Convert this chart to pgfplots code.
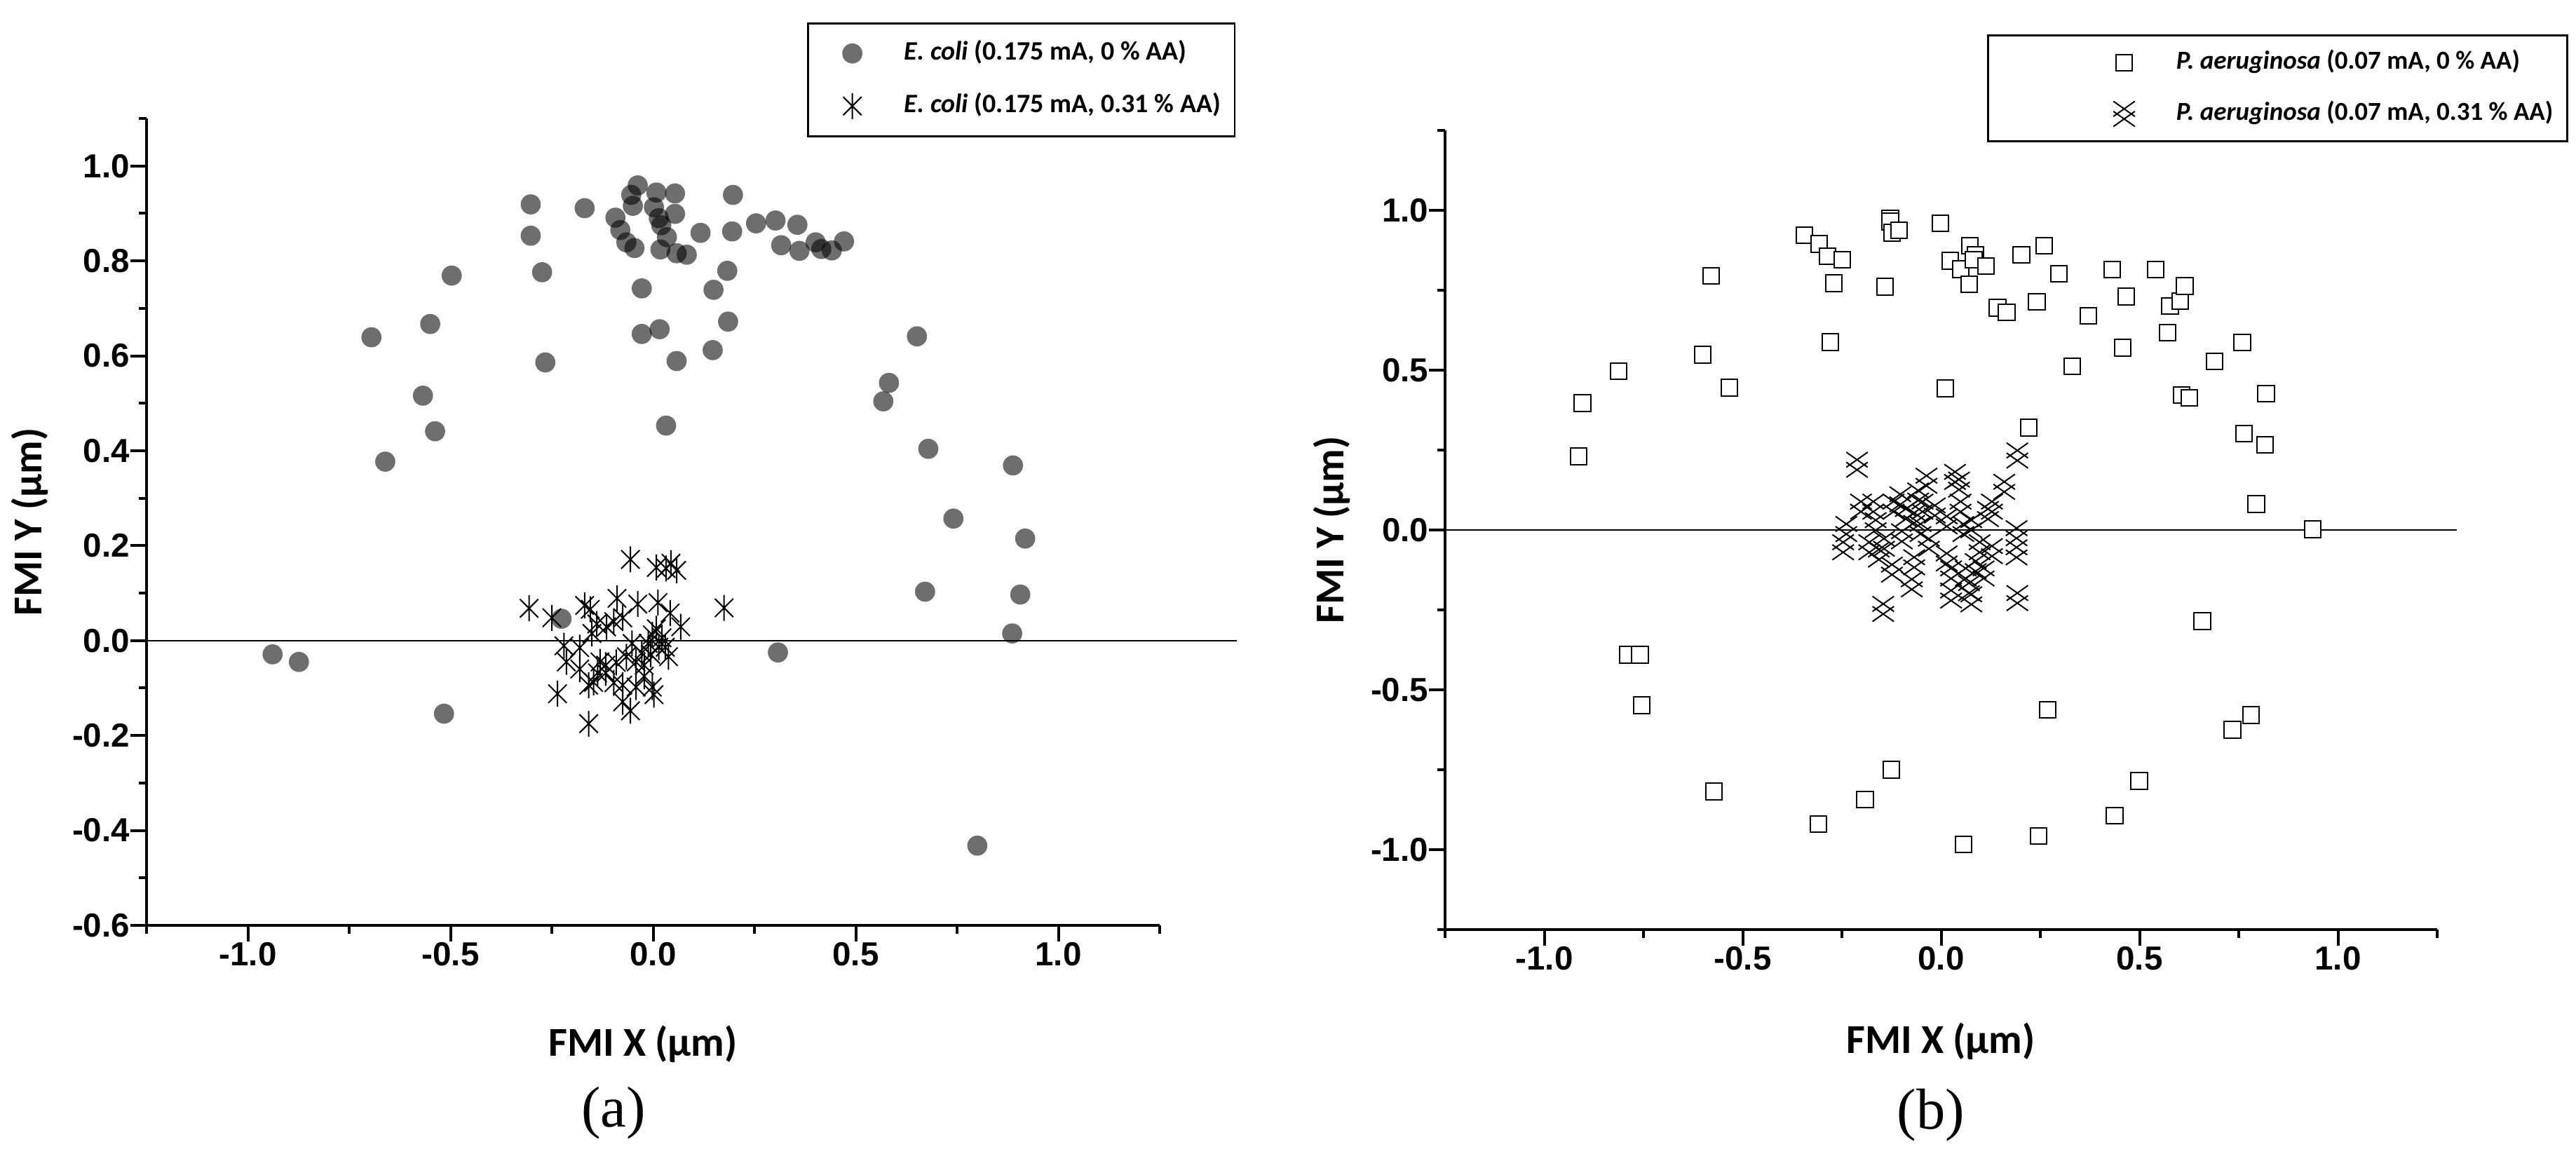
\documentclass[border=0pt]{standalone}
\usepackage{fontspec}
\usepackage{pgfplots}
\pgfplotsset{compat=1.18}
\setmainfont{Liberation Serif}
\newfontfamily\calibri{Carlito}
\newfontfamily\arial{Liberation Sans}

\pgfdeclareplotmark{ast6}{%
  \pgfpathmoveto{\pgfqpoint{0pt}{\pgfplotmarksize}}%
  \pgfpathlineto{\pgfqpoint{0pt}{-\pgfplotmarksize}}%
  \pgfpathmoveto{\pgfqpoint{-0.707\pgfplotmarksize}{0.707\pgfplotmarksize}}%
  \pgfpathlineto{\pgfqpoint{0.707\pgfplotmarksize}{-0.707\pgfplotmarksize}}%
  \pgfpathmoveto{\pgfqpoint{-0.707\pgfplotmarksize}{-0.707\pgfplotmarksize}}%
  \pgfpathlineto{\pgfqpoint{0.707\pgfplotmarksize}{0.707\pgfplotmarksize}}%
  \pgfusepathqstroke}
\pgfdeclareplotmark{hatch}{%
  \pgfpathmoveto{\pgfqpoint{-0.85\pgfplotmarksize}{-0.2\pgfplotmarksize}}%
  \pgfpathlineto{\pgfqpoint{0.85\pgfplotmarksize}{\pgfplotmarksize}}%
  \pgfpathmoveto{\pgfqpoint{-0.85\pgfplotmarksize}{\pgfplotmarksize}}%
  \pgfpathlineto{\pgfqpoint{0.85\pgfplotmarksize}{-0.2\pgfplotmarksize}}%
  \pgfpathmoveto{\pgfqpoint{-0.85\pgfplotmarksize}{-\pgfplotmarksize}}%
  \pgfpathlineto{\pgfqpoint{0.85\pgfplotmarksize}{0.2\pgfplotmarksize}}%
  \pgfpathmoveto{\pgfqpoint{-0.85\pgfplotmarksize}{0.2\pgfplotmarksize}}%
  \pgfpathlineto{\pgfqpoint{0.85\pgfplotmarksize}{-\pgfplotmarksize}}%
  \pgfusepathqstroke}

\pgfplotsset{fmi/.style={
  scale only axis, axis lines=left, x axis line style={-}, y axis line style={-},
  axis line style={line width=0.8pt},
  tick style={black, line width=0.8pt},
  tick align=outside, major tick length=4.6pt, minor tick length=2.3pt,
  xmin=-1.25, xmax=1.25, clip=false, enlargelimits=false,
  xtick={-1,-0.5,0,0.5,1}, xticklabels={-1.0,-0.5,0.0,0.5,1.0},
  minor xtick={-1.25,-0.75,-0.25,0.25,0.75,1.25},
  tick label style={font=\arial\bfseries\fontsize{9.5}{11}\selectfont},
  xticklabel style={inner sep=0pt, anchor=north},
  yticklabel style={inner sep=0pt, anchor=east},
  label style={font=\calibri\bfseries\fontsize{11.7}{14}\selectfont},
  legend cell align=left,
  legend style={font=\calibri\bfseries\fontsize{7.6}{9}\selectfont, draw=black, line width=0.5pt,
    inner xsep=2pt, inner ysep=3pt, row sep=3.8pt, column sep=2pt,
    nodes={inner sep=2pt, text height=5.5pt, text depth=1.7pt}},
},
legA/.style={legend image code/.code={\path (0pt,-4pt) (21pt,4pt); \draw[##1] plot coordinates {(10.4pt,0pt)};}},
legB/.style={legend image code/.code={\path (0pt,-4pt) (47.2pt,4pt); \draw[##1] plot coordinates {(36.6pt,0pt)};}},
}

\begin{document}
\begin{tikzpicture}
\path[use as bounding box] (0,0) rectangle (734.8pt,329.6pt);

% ---------------- panel (a)
\begin{axis}[fmi, at={(41.8pt,65.6pt)}, anchor=south west, width=289pt, height=230.2pt,
  ymin=-0.6, ymax=1.1,
  ytick={-0.6,-0.4,-0.2,0,0.2,0.4,0.6,0.8,1.0},
  yticklabels={-0.6,-0.4,-0.2,0.0,0.2,0.4,0.6,0.8,1.0},
  minor ytick={-0.5,-0.3,-0.1,0.1,0.3,0.5,0.7,0.9,1.1},
  xlabel={FMI X (μm)}, ylabel={FMI Y (μm)},
  xlabel style={at={(axis description cs:0.49,-0.1616)}, anchor=base},
  ylabel style={at={(axis description cs:-0.115,0.5)}, anchor=center},
  legend style={at={(axis description cs:0.652,1.119)}, anchor=north west},
]
\addplot[black, line width=0.35pt, forget plot] coordinates {(-1.25,0) (1.44,0)};
\addplot[only marks, mark=*, mark size=2.87pt, mark options={draw opacity=0, fill=black, fill opacity=0.57}, legA] coordinates {
(-0.302,0.919) (-0.302,0.853) (-0.169,0.911) (-0.274,0.776) (-0.497,0.769) (-0.695,0.639)
(-0.550,0.667) (-0.266,0.586) (-0.568,0.516) (-0.538,0.441) (-0.661,0.377) (-0.038,0.959)
(-0.054,0.939) (-0.050,0.916) (-0.093,0.891) (-0.081,0.865) (-0.066,0.839) (-0.046,0.827)
(0.008,0.944) (0.054,0.942) (0.002,0.913) (0.014,0.890) (0.020,0.875) (0.034,0.850)
(0.018,0.824) (0.054,0.899) (0.058,0.816) (0.083,0.813) (0.117,0.859) (0.197,0.939)
(0.195,0.862) (0.254,0.879) (0.302,0.885) (0.316,0.833) (0.356,0.876) (0.361,0.821)
(0.401,0.839) (0.415,0.825) (0.441,0.822) (0.471,0.841) (0.183,0.779) (0.149,0.739)
(-0.028,0.742) (0.185,0.672) (0.147,0.612) (0.016,0.656) (-0.028,0.646) (0.058,0.589)
(0.032,0.453) (0.651,0.641) (0.582,0.543) (0.568,0.504) (0.679,0.404) (0.741,0.257)
(0.888,0.369) (0.918,0.215) (0.671,0.103) (0.906,0.097) (0.886,0.015) (0.308,-0.025)
(-0.226,0.046) (-0.939,-0.029) (-0.874,-0.045) (-0.516,-0.154) (0.800,-0.432)
};
\addlegendentry{\textit{E. coli} (0.175 mA, 0 \% AA)}
\addplot[only marks, mark=ast6, mark size=3.7pt, mark options={black, line width=0.4pt}, legA] coordinates {
(-0.056,0.171) (0.008,0.154) (0.044,0.163) (0.058,0.148) (0.032,0.152) (-0.306,0.068)
(-0.250,0.048) (0.175,0.069) (-0.169,0.074) (-0.155,0.066) (-0.089,0.089) (-0.038,0.077)
(0.012,0.080) (-0.139,0.035) (-0.115,0.029) (-0.097,0.040) (-0.075,0.048) (0.042,0.058)
(0.068,0.029) (-0.220,-0.011) (-0.214,-0.045) (-0.181,-0.015) (-0.151,0.015) (-0.131,-0.045)
(-0.117,-0.052) (-0.091,-0.046) (-0.066,-0.034) (-0.052,-0.006) (-0.042,-0.045) (-0.028,-0.026)
(-0.012,-0.006) (-0.002,0.012) (0.008,0.025) (0.022,0.006) (0.030,-0.014) (0.038,-0.034)
(-0.006,-0.029) (0.014,-0.014) (-0.022,-0.052) (-0.236,-0.112) (-0.159,-0.094) (-0.147,-0.088)
(-0.097,-0.089) (-0.075,-0.094) (-0.042,-0.098) (-0.002,-0.098) (0.002,-0.114) (-0.075,-0.129)
(-0.056,-0.148) (-0.159,-0.175) (-0.117,-0.068) (-0.022,-0.075) (-0.181,-0.060) (-0.137,-0.068)
};
\addlegendentry{\textit{E. coli} (0.175 mA, 0.31 \% AA)}
\end{axis}

% ---------------- panel (b)
\begin{axis}[fmi, at={(412.2pt,64.4pt)}, anchor=south west, width=283pt, height=228pt,
  ymin=-1.25, ymax=1.25,
  ytick={-1,-0.5,0,0.5,1}, yticklabels={-1.0,-0.5,0.0,0.5,1.0},
  minor ytick={-1.25,-0.75,-0.25,0.25,0.75,1.25},
  xlabel={FMI X (μm)}, ylabel={FMI Y (μm)},
  xlabel style={at={(axis description cs:0.4996,-0.155)}, anchor=base},
  ylabel style={at={(axis description cs:-0.1145,0.5)}, anchor=center},
  legend style={at={(axis description cs:0.5463,1.120)}, anchor=north west,
    font=\calibri\bfseries\fontsize{7.4}{9}\selectfont, inner ysep=2.2pt, row sep=3.4pt},
]
\addplot[black, line width=0.35pt, forget plot] coordinates {(-1.25,0) (1.30,0)};
\addplot[only marks, mark=square*, mark size=2.33pt, mark options={draw=black, fill=white, line width=0.4pt}, legB] coordinates {
(-0.344,0.922) (-0.307,0.895) (-0.286,0.857) (-0.249,0.846) (-0.270,0.772) (-0.580,0.795)
(-0.279,0.588) (-0.601,0.548) (-0.813,0.496) (-0.534,0.445) (-0.904,0.397) (-0.913,0.230)
(-0.128,0.975) (-0.128,0.965) (-0.124,0.930) (-0.106,0.938) (-0.142,0.761)
(-0.002,0.960) (0.023,0.842) (0.049,0.816) (0.072,0.890) (0.087,0.860) (0.082,0.846)
(0.113,0.825) (0.070,0.769) (0.142,0.695) (0.165,0.681) (0.202,0.860) (0.260,0.890)
(0.241,0.714) (0.297,0.802) (0.371,0.670) (0.330,0.512) (0.010,0.443) (0.221,0.320)
(0.431,0.814) (0.466,0.730) (0.458,0.570) (0.540,0.814) (0.571,0.617) (0.577,0.700)
(0.602,0.716) (0.614,0.763) (0.606,0.422) (0.625,0.413) (0.689,0.528) (0.759,0.586)
(0.819,0.427) (0.763,0.301) (0.816,0.267) (0.794,0.081) (0.936,0.002) (0.658,-0.285)
(-0.790,-0.390) (-0.759,-0.390) (-0.755,-0.548) (0.268,-0.562) (-0.573,-0.818)
(-0.126,-0.750) (-0.192,-0.843) (-0.309,-0.920) (0.056,-0.983) (0.245,-0.957)
(0.437,-0.893) (0.499,-0.785) (0.734,-0.625) (0.781,-0.579)
};
\addlegendentry{\textit{P. aeruginosa} (0.07 mA, 0 \% AA)}
\addplot[only marks, mark=hatch, mark size=3.6pt, mark options={black, line width=0.4pt}, legB] coordinates {
(-0.212,0.204) (0.192,0.233) (-0.146,-0.247) (0.192,-0.213) (0.159,0.135) (0.190,-0.010)
(0.190,-0.070) (-0.247,-0.054) (-0.239,0.003) (-0.202,0.073) (-0.171,0.073) (-0.181,-0.054)
(-0.157,-0.077) (-0.144,-0.043) (-0.124,-0.124) (-0.120,0.073) (-0.103,0.096) (-0.089,0.050)
(-0.074,-0.170) (-0.068,-0.101) (-0.058,0.108) (-0.052,0.003) (-0.037,0.154) (-0.031,-0.043)
(-0.016,0.061) (0.014,0.027) (0.025,-0.136) (0.035,0.166) (0.045,0.142) (0.049,0.073)
(0.056,0.003) (0.062,-0.136) (0.070,-0.182) (0.076,-0.217) (0.025,-0.205) (0.087,-0.113)
(0.097,-0.054) (0.107,-0.136) (0.118,0.050) (0.128,0.073) (0.128,-0.066) (0.076,0.015)
(0.014,-0.089) (-0.099,-0.020) (-0.068,0.038) (-0.047,0.073) (-0.165,0.015)
};
\addlegendentry{\textit{P. aeruginosa} (0.07 mA, 0.31 \% AA)}
\end{axis}

\node[anchor=base, font=\fontsize{16.5}{19}\selectfont] at (175pt,8.2pt) {(a)};
\node[anchor=base, font=\fontsize{16.5}{19}\selectfont] at (550.8pt,7.6pt) {(b)};
\end{tikzpicture}
\end{document}
